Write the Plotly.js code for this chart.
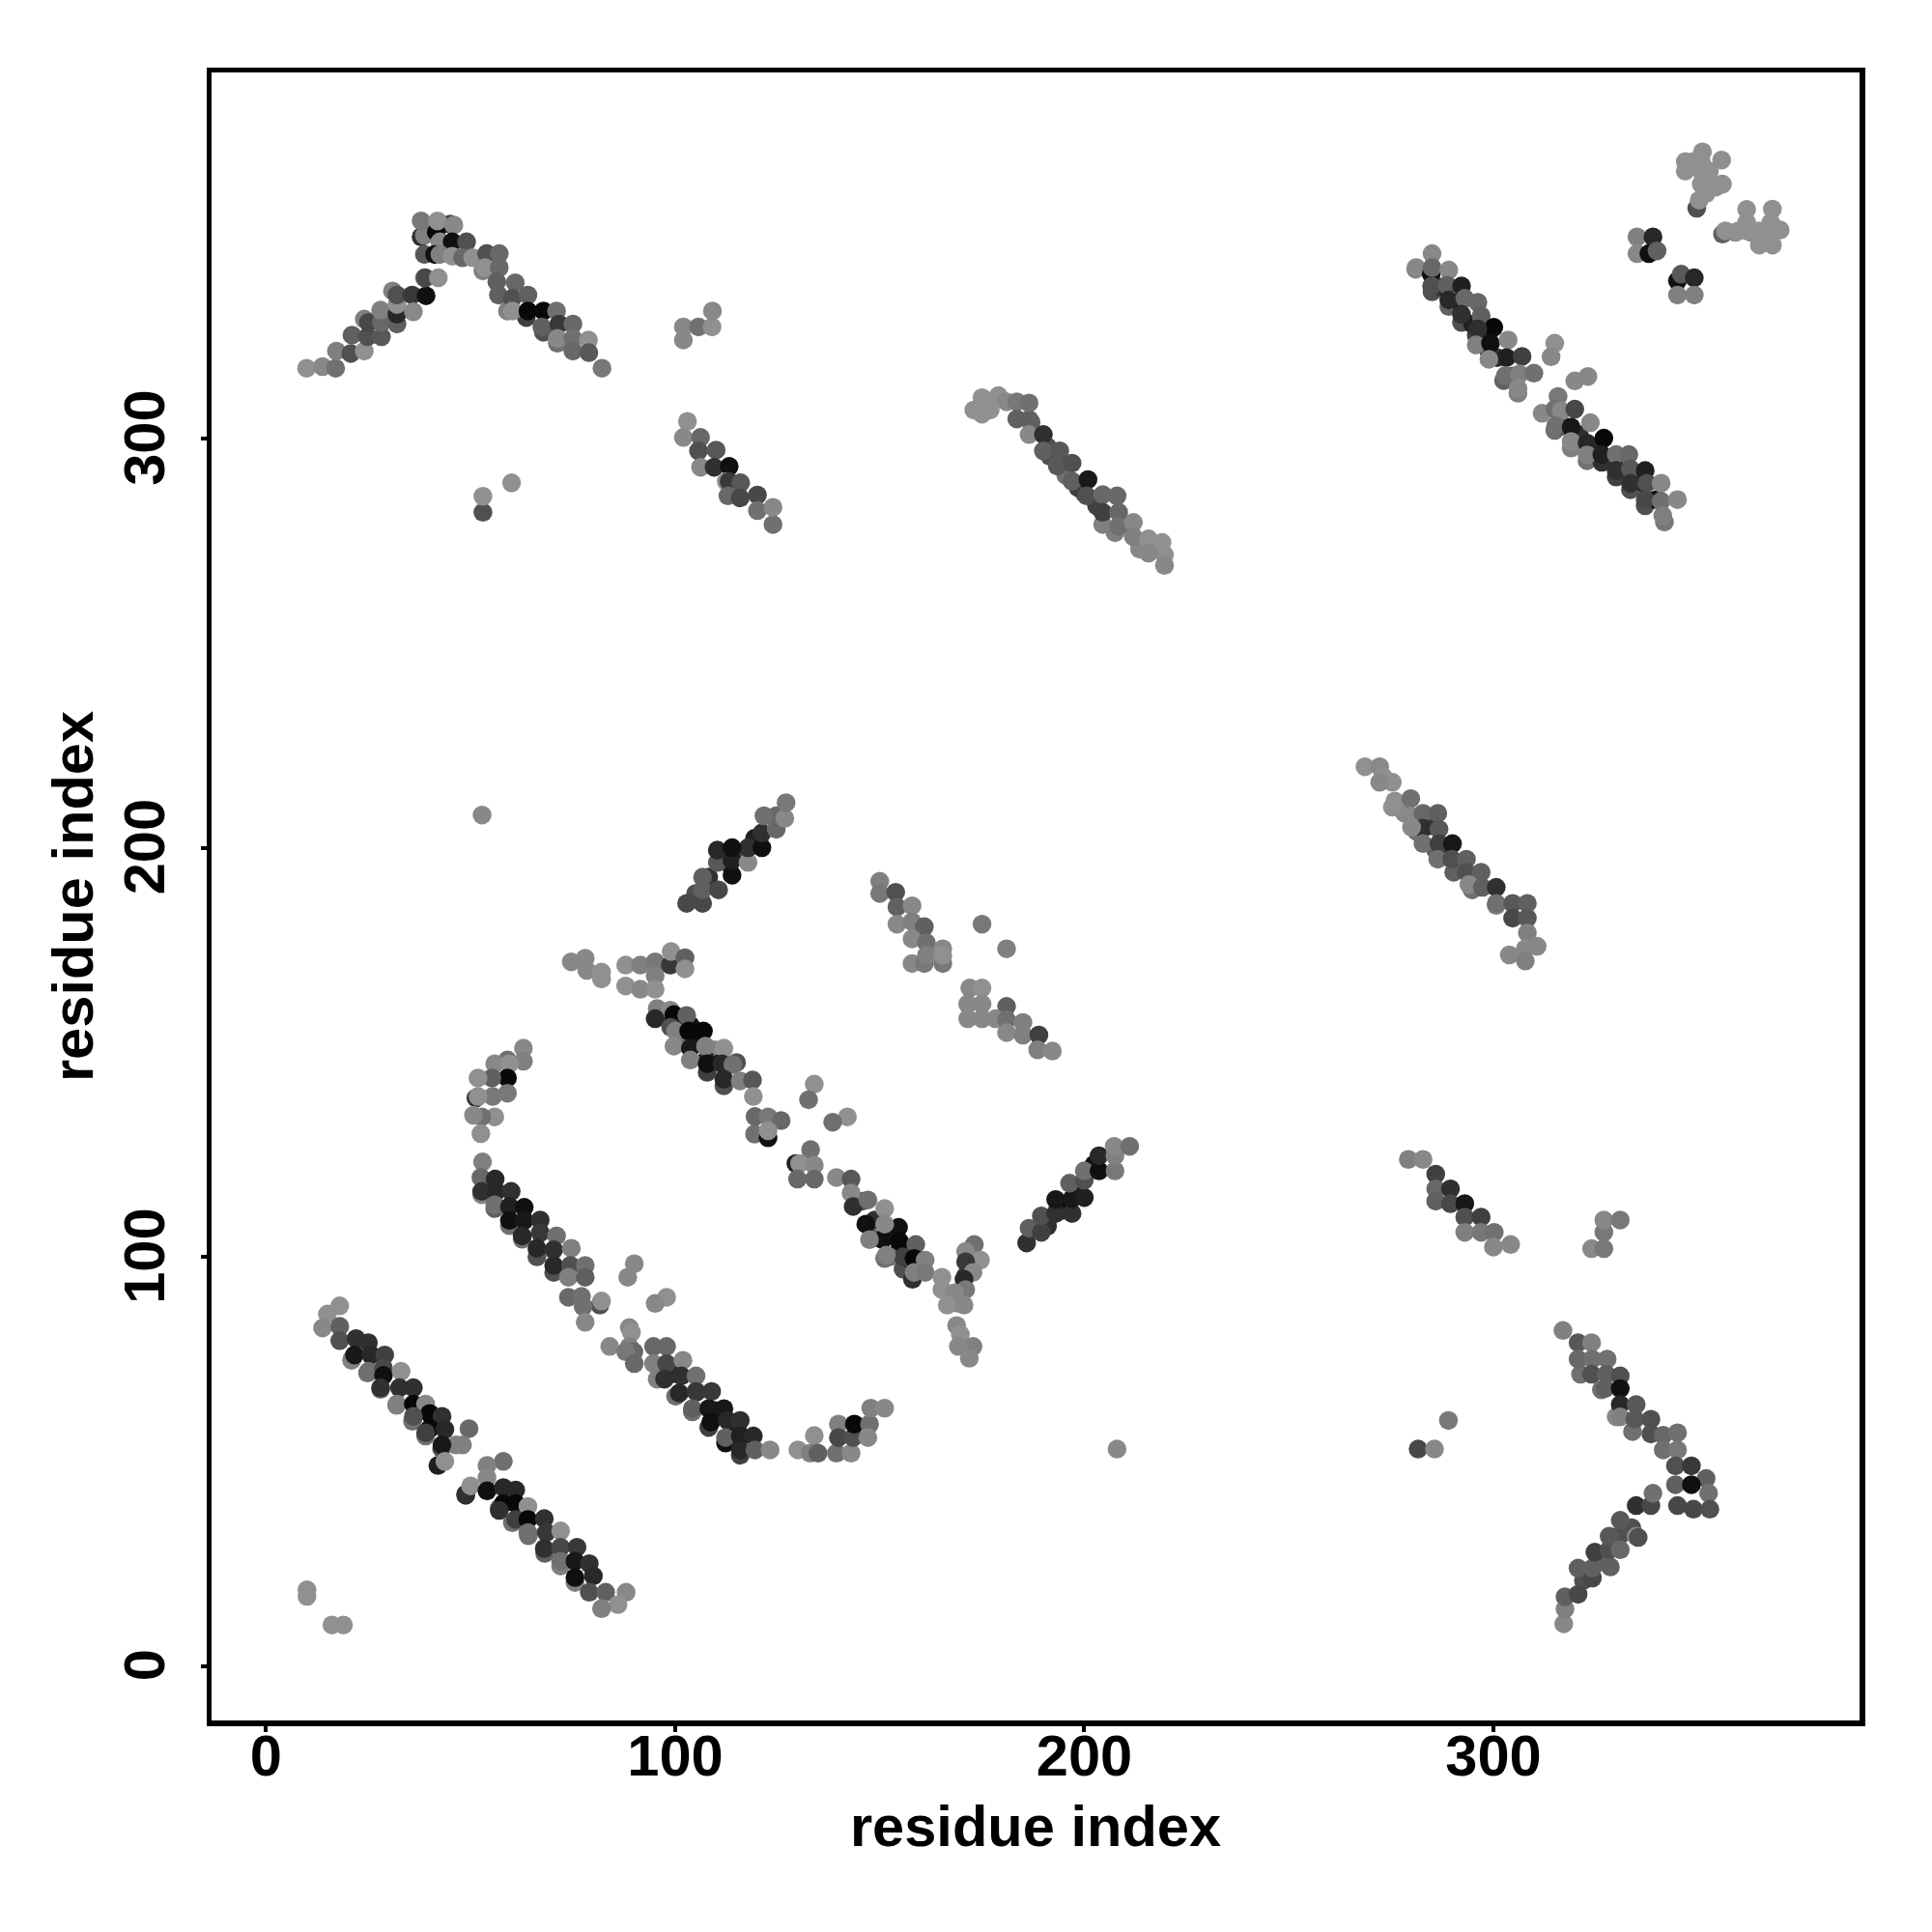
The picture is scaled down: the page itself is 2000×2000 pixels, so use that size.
<!DOCTYPE html>
<html>
<head>
<meta charset="utf-8">
<script src="https://cdn.plot.ly/plotly-3.0.1.min.js"></script>
<style>html,body{margin:0;padding:0;background:#fff}</style>
</head>
<body>
<div id="chart" style="width:2000px;height:2000px"></div>
<script>
const tickValues = [0, 100, 200, 300];
const axisLabel = "residue index";

const underX = [20.9,24.8,28,31.9,35.8,39,42.9,48.8,57,60.2,64.1,68.1,72,75.5,52.7,55.9,59.5,62.6,66.2,70.3,95.6,100.1,104.2,108.2,112.3,115.9,107.8,111.9,151.2,155.7,158,285,289.1,292.2,295.8,298.9,302.5,306,315,319,322.9,326.5,330,333.5,337.1,341.8,108.2,112.7,117,119.4,105,191,194.6,198.5,202.4,186.5,191,195.5,200,204.5,207.5,213.5,217.1,278.3,281.2,285.9,290.3,294.8,300.7,321.3,326.4,330,334,322,325.6,329.3,333.8,59,63.6,67.8,71.2,169.2,171,348.9,352.8,350.8,352,359.1,363,366.6,367.8,361.9];
const underY = [74.7,71.6,67.6,63.7,59.8,56.2,53.1,41.7,38.5,35,31.8,27.5,24.4,20.4,115.2,111.8,107.6,104.3,100,96.2,70.1,65.9,62.1,58.3,54.5,51.5,145.1,141.8,99.6,97,94.5,335.9,332.3,328.4,325.3,321.3,314.2,311.1,302,297.7,294.6,294.2,290.6,287.5,283.6,279.6,192.8,196.4,197.9,202.3,188.8,107.5,111.4,116.6,122.6,304.7,298,291,286.6,279,277,273,273,208.4,204,199.4,194,189.7,185.9,71.3,67.5,60.9,57.3,20.9,25.4,29.3,33.8,331.2,329.6,326,323.3,88.6,95.4,367.7,365.4,367.7,359.9,350.4,350.4,348.9,352.8,350.8];
const underG = [0x80,0x70,0x70,0x80,0x70,0x70,0x50,0x30,0x60,0x70,0x70,0x60,0x80,0x80,0x80,0x60,0x70,0x70,0x50,0x50,0x80,0x70,0x70,0x40,0x10,0x40,0x40,0x50,0x70,0x50,0x30,0x50,0x60,0x50,0x40,0x30,0x60,0x80,0x70,0x80,0x70,0x30,0x40,0x50,0x50,0x78,0x30,0x20,0x40,0x20,0x50,0x30,0x10,0x20,0x10,0x60,0x50,0x70,0x60,0x80,0x80,0x88,0x90,0x88,0x70,0x60,0x60,0x70,0x80,0x70,0x70,0x88,0x70,0x50,0x60,0x70,0x50,0x80,0x40,0x50,0x70,0x88,0x40,0x90,0x90,0x90,0x90,0x90,0x90,0x90,0x90,0x90];

const middleX = [99.2,102.2,105.2,109.7,107.6,111.2,115,103.7,145.8,148.8,151.8,148.2,154.8,157.3,159.4,152.4,317.4,321,325,329.5,334,337,287.3,291.8,294.9,297.9,300.9,304.8,191.6,198.5,203,210.5,284.3,288,99.2,105.2,109.7,115.2];
const middleY = [157.3,154.2,152.7,150.6,148.1,147.5,147.5,156.6,113.6,109,106,104.6,101.6,99.4,97,100,303,301,297,294,292,289,337,333.4,328,324.3,319.8,315.3,295.7,288,283.6,279,205.3,199.4,71.4,66.9,62.4,57.9];
const middleG = [0x20,0x70,0x10,0x88,0x30,0x10,0x50,0x10,0x50,0x30,0x20,0x60,0x10,0x30,0x60,0x70,0x50,0x30,0x20,0x30,0x30,0x20,0x30,0x20,0x20,0x20,0x30,0x50,0x50,0x40,0x40,0x60,0x30,0x30,0x20,0x20,0x10,0x20];

const aX = [10,10,16.1,18.9,18,15,13.8,18,18,21,22,25,21.6,25.6,25,29,28.7,28.7,33,36,32.6,28,32,36,39,40,43,36,40,43.7,39,49.6,48,46.4,43,42,43.7,58,54,54,48.8,50,54,58,61,58,61,64,57,61,64,68,64,68.5,72,68,72,76,72,75.5,79,75.5,80,79,83,88,86,82];
const aY = [17,18.6,10,10,88,86,82.6,83,79.5,75,80,79,76,76,72,76,72.8,71,72,68,68,68,64,64,64,61.7,61,61,58,57.8,57,58,54,54,54,49,50,50,49,46,42,44,42.8,43.6,43,39.7,39.7,39,38,35.8,35.8,36,32.6,32.6,33,28.7,29,29,25.6,25.6,25,21.6,22,18,18,18,15,14];
const aG = [0x90,0x90,0x90,0x90,0x90,0x90,0x88,0x60,0x50,0x80,0x30,0x30,0x18,0x28,0x70,0x40,0x48,0x10,0x90,0x30,0x30,0x30,0x80,0x08,0x88,0x08,0x30,0x50,0x08,0x28,0x40,0x68,0x80,0x80,0x18,0x20,0x90,0x70,0x80,0x88,0x30,0x90,0x10,0x28,0x28,0x08,0x08,0x90,0x30,0x40,0x08,0x30,0x70,0x38,0x90,0x30,0x48,0x38,0x70,0x18,0x30,0x10,0x28,0x50,0x60,0x88,0x90,0x80];

const bX = [51.3,62.9,62.9,59,55.9,59.5,59,55.2,51.8,59,55.4,51.8,55.9,52.7,50.7,52.5,52.9,52.5,52.7,56,56.3,59.9,55.9,59.5,63.1,59.5,63.1,62.6,67,67,71,66.2,70.3,74.6,70.3,74.4,78,73.9,78,73.9,77.1,81.6,82,77.5,78,90,88.4,97.9,95.1,84,88.8,89.3,88.8,89.9,87.9,90,94.7,97.9,94.7,97.9,101.9,97.4,101.5,105.1,101,105.1,108.9,104.2,108.2,111.9,108.7,112.8,115.9,112.3,115.9,119.1,115.9,119.5,123.2];
const bY = [138.8,151,147.8,148.1,147.2,147.2,143.7,143.7,143.7,140,139.2,139.2,134.2,134.2,134.6,130.1,123.2,119.4,116,119,116,116,112.7,112.3,112.1,108.9,108.9,105.1,109,105.9,105.1,102.1,101.7,102.1,97.9,97.9,97.9,95,95,90.1,90.3,88.2,89.2,87.8,84,98.3,95,90.1,88.6,78.1,82.7,81.5,78.1,76.8,76.8,73.9,78.1,78.1,73.9,73.9,74.7,70.1,70.9,70.9,66.7,67.1,67.1,62.9,62.9,62.9,59.6,60,60,55.8,56.2,56.2,52.8,52.8,52.8];
const bG = [0x30,0x88,0x80,0x70,0x88,0x90,0x08,0x60,0x90,0x78,0x78,0x90,0x90,0x70,0x88,0x90,0x80,0x68,0x30,0x28,0x28,0x30,0x70,0x20,0x10,0x10,0x18,0x28,0x30,0x38,0x70,0x28,0x30,0x80,0x28,0x50,0x70,0x80,0x60,0x68,0x70,0x50,0x90,0x70,0x88,0x88,0x88,0x90,0x88,0x88,0x88,0x90,0x80,0x68,0x78,0x68,0x68,0x68,0x80,0x48,0x88,0x30,0x30,0x70,0x28,0x38,0x38,0x60,0x18,0x18,0x10,0x28,0x30,0x60,0x20,0x28,0x28,0x60,0x88];

const cX = [130,134,133,134.9,139.4,143,139.9,139.9,143.5,143.8,147.5,147.1,147.8,151.2];
const cY = [52.8,56.3,52,52,52,52,59.1,55.8,55.8,59.1,59.1,55.8,63,63];
const cG = [0x90,0x90,0x80,0x60,0x70,0x88,0x80,0x48,0x50,0x08,0x70,0x88,0x80,0x88];

const dX = [74.6,78,78.4,82,82,87.9,87.9,91.5,91.5,95.1,95.1,95.1,98.8,99,102.4,102.4,95.6,98.8,95.1,99.7,102.8,98.9,100.1,103.3,106.9,99.7,103.7,103.7,107.4,107.8,111.9,111.4,114.1,111.9,115.9,118.9,119.1,119.5,122.7,125.9,119.4,122.7,122.7,134,132.6,142.1,138.5,133.1,129.5,130.4,134,129.9,134,139.4,143,143,143.5,147.1,151.2,146.6,150.7,147.5,154.6,151.2,154.8,158.8,155.7,151.6,158.4,161.1,158.4,161.1];
const dY = [172.1,173,170,169.6,167.9,171.3,166.2,171.3,165.4,172.1,168.7,165.4,171.3,174.6,173.1,170.4,160.7,160.3,158.2,159.2,159,156.1,155.2,155.2,155.2,151.5,151,148.1,151.5,147.2,151,147.2,147,143.4,143,143.2,139.2,134.3,134.2,133.3,130,129.1,130.8,142.2,138.4,134.2,132.9,126.2,122.8,122.8,122.4,119,119,119.4,119,115.6,112.3,113.9,111.8,108,104.2,104.2,107.2,108,103.8,103,100,100.4,99.6,99.2,96.2,96.2];
const dG = [0x88,0x88,0x88,0x90,0x90,0x90,0x90,0x80,0x88,0x78,0x80,0x90,0x38,0x90,0x60,0x90,0x80,0x88,0x28,0x08,0x60,0x50,0x80,0x08,0x08,0x88,0x18,0x80,0x80,0x10,0x90,0x28,0x70,0x28,0x80,0x58,0x90,0x68,0x78,0x68,0x70,0x10,0x90,0x90,0x70,0x90,0x70,0x70,0x20,0x90,0x88,0x68,0x68,0x88,0x58,0x88,0x30,0x70,0x90,0x10,0x10,0x80,0x10,0x88,0x08,0x60,0x40,0x80,0x08,0x80,0x80,0x78];

const eX = [173.1,171,174.6,171,172.8,170.6,171,165.2,165.2,168.3,166.5,170.6,168.8,169.7,172.8,169.2,171.9];
const eY = [103,101.3,99.2,98.8,96.2,94.5,92,95,92,91.2,88.2,88.2,83.2,81,78.1,78.1,75.2];
const eG = [0x70,0x88,0x90,0x38,0x88,0x28,0x78,0x90,0x90,0x88,0x90,0x88,0x88,0x90,0x80,0x88,0x88];

const fX = [9.9,13.8,17,17.2,20.7,24,21,24.8,28.2,24,25,28.2,28,32,32,32,30.9,32,35.7,36,39.1,38.7,38.9,42.1];
const fY = [317.2,317.6,317.2,321.4,320.8,321.4,325.3,324.9,324.9,329.2,328.4,328.4,331.4,328,330.4,332.8,336.1,335.1,335.1,331,334.9,339.3,339.3,339.3];
const fG = [0x90,0x88,0x70,0x80,0x50,0x90,0x60,0x50,0x58,0x80,0x48,0x68,0x80,0x60,0x28,0x90,0x80,0x50,0x38,0x88,0x10,0x88,0x48,0x90];

const gX = [45,37.9,38.7,41.6,37.9,41.9,45.9,42.5,45.5,49,38.7,41.2,42.5,45.5,48,50.5,53.9,57,53,53.5,57,56.4,56.8,60.9,60.2,60.2,64,64,67.8,71,67.4,71.6,75,71.2,75,78.8,75,78.9,82.1];
const gY = [352.4,349.3,349.7,350.5,353.2,353.2,352.2,348.1,348.1,348.1,345,345,345,344.6,344.2,344.2,345.2,345.2,341,341.8,341.8,338.3,335.1,338.1,334.3,331.2,335.1,331.2,331.2,331.2,327.3,328,328,324.5,324.5,324.1,321.4,321,317.2];
const gG = [0x40,0x30,0x80,0x08,0x78,0x90,0x88,0x88,0x10,0x50,0x58,0x10,0x80,0x90,0x68,0x90,0x50,0x68,0x80,0x90,0x68,0x60,0x60,0x68,0x50,0x90,0x60,0x08,0x08,0x70,0x60,0x38,0x68,0x88,0x70,0x90,0x68,0x58,0x78];

const hX = [102,102,105.7,109,109.1,53,53,60,103,102,106.2,105.7,110,106.2,109.5,113.2,112.5,113.2,116,112.9,115.9,120.1,120.1,123.9,123.9];
const hY = [327.3,324.1,327.3,327.3,331.2,282,285.9,289.2,304.2,300.3,300.3,297,297.2,293,293,293.2,289.5,289.5,289.2,286,285.5,286.2,282.4,279,283.2];
const hG = [0x88,0x88,0x70,0x90,0x88,0x50,0x90,0x90,0x90,0x88,0x68,0x50,0x58,0x88,0x30,0x10,0x90,0x38,0x58,0x68,0x48,0x48,0x70,0x70,0x88];

const iX = [349.7,346.9,351.1,355.8,346.9,350.8,350.8,356,354.4,350.3,356,356.7,359.9,361.9,361.9,368.2,367.8,370.1,365,368.2,365,335.1,339,335.1,338,340,345,345.9,349.1,345,349.1];
const iY = [356.3,367.7,370.1,368.1,365.4,365.4,362.2,362.2,361.5,358.3,350,350.8,350.8,356,352.8,356.1,350.8,351,347.3,347.3,350.8,349.3,349.3,345.2,345.2,345.9,338.6,340.2,339.3,335.1,335.1];
const iG = [0x50,0x90,0x90,0x90,0x90,0x90,0x90,0x90,0x90,0x90,0x60,0x90,0x90,0x90,0x90,0x90,0x90,0x90,0x90,0x90,0x90,0x80,0x28,0x88,0x10,0x60,0x10,0x58,0x28,0x80,0x80];

const jX = [281,281.1,285,284.8,285,284.9,289.1,288.7,289.1,292.2,293,296.2,292.2,297,300.1,296.2,295.8,299.3,303.6,303.2,298.9,307,302.9,306.4,309.9,306,315,314.1,323.1,319.9];
const jY = [341.4,341.8,345.2,340.2,341.8,337.3,341.2,337.5,333.9,337.3,334.3,333.3,330.4,330,327.2,326.8,322.9,323.3,324.1,319.8,319.4,320.1,315.4,315.8,316,312.3,323.3,320,315.2,314.1];
const jG = [0x80,0x88,0x88,0x10,0x68,0x50,0x88,0x60,0x28,0x20,0x68,0x68,0x30,0x60,0x08,0x30,0x80,0x10,0x88,0x20,0x88,0x40,0x70,0x80,0x70,0x88,0x90,0x88,0x88,0x88];

const kX = [339.8,315.8,311.9,315,316.6,315.2,319.9,319,323.7,319,322.9,322.9,327,326.5,330,333.1,330,333.5,337.1,333.5,337.5,341,337.1,341,345,341.4];
const kY = [285.1,310.3,306.2,307.2,306.8,303.1,307.2,302.8,303.9,299.3,298.9,296,300.1,296.1,296.1,296.1,292.2,292.6,292.2,289.1,289.1,289.1,285.1,284.7,285.1,281.2];
const kG = [0x10,0x78,0x88,0x70,0x88,0x70,0x48,0x18,0x88,0x88,0x28,0x80,0x08,0x20,0x70,0x68,0x30,0x58,0x20,0x30,0x50,0x88,0x48,0x70,0x88,0x80];

const lX = [175,173,175,177,179,181,183.5,186.5,183.5,187,186.5,190,190,194,193.4,197,197,200.9,200.6,204.5,204.5,208,208.4,208.4,212,212,215.7,219,219.6,219.6,215.7];
const lY = [306,307,310,307,310.5,309,309,308.7,304.8,304,301,301,297,297,293.3,294,289.6,290,286,286.3,282,286,282,278.5,279.5,276,275.5,274.6,271.6,269,272];
const lG = [0x90,0x90,0x90,0x90,0x90,0x88,0x78,0x70,0x60,0x60,0x88,0x30,0x60,0x58,0x58,0x50,0x60,0x18,0x50,0x68,0x40,0x68,0x68,0x70,0x88,0x80,0x90,0x90,0x90,0x88,0x88];

const mX = [268.6,272.2,273,275.3,272.2,275.9,279.8,275.3,279.8,282.8,286.4,282.8,286.7,280,282.8,286.7,290,286.4,289.8,293.4,293.4,297,294,297.3,300.7,300.7,304.7,308.3,304.7,308.3,308.3,310.7,303.9,307.8,307.8];
const mY = [219.8,219.8,217.4,216,216,211.4,212,209.9,207.8,208.4,208.4,204.8,204.5,205,201,201,201,197.2,197.2,197.2,194,194,191,190.3,190.3,186.4,186.4,186.4,182.8,182.8,179.2,175.9,173.8,175.3,172.3];
const mG = [0x90,0x88,0x90,0x90,0x88,0x90,0x70,0x90,0x88,0x68,0x60,0x30,0x58,0x88,0x70,0x40,0x18,0x70,0x50,0x60,0x50,0x60,0x88,0x60,0x30,0x70,0x58,0x60,0x48,0x58,0x80,0x88,0x88,0x88,0x80];

const nX = [102.8,106.7,106.7,110.6,106.7,110.3,113.9,113.9,117.8,117.8,121.2,121.2,124.7,124.7,126.8,127.1,121.7,110.3,113.9];
const nY = [186.4,186.4,189.7,189.7,192.8,196.4,193.3,196.9,196.4,200,200,203.6,204.5,207.8,207.2,211,207.8,199.4,200];
const nG = [0x48,0x48,0x60,0x48,0x60,0x58,0x10,0x20,0x88,0x30,0x10,0x30,0x68,0x68,0x88,0x78,0x70,0x28,0x10];

const oX = [150,150,153.9,154.2,157.9,154.2,157.9,160.9,157.9,161.4,165.4,157.9,160.9,165.4,161.4,165.4,175,181,172,175,171.5,175,181,171.5,175,178.3,181,185,181,185,188.9,188.6,192.2];
const oY = [191.8,188.8,189.1,185.5,185.8,181.3,181.9,180.7,177.7,176.8,175.3,171.7,171.7,171.7,173.7,173.7,181.3,175.3,165.7,165.7,161.8,161.8,161.2,158.2,158.2,158.2,157.9,157.3,154.8,154.2,154.2,150.6,150.3];
const oG = [0x80,0x78,0x50,0x60,0x88,0x88,0x80,0x60,0x88,0x70,0x88,0x88,0x78,0x78,0x80,0x90,0x78,0x80,0x88,0x90,0x88,0x88,0x60,0x88,0x88,0x88,0x70,0x80,0x88,0x80,0x40,0x80,0x88];

const pX = [185.9,186.5,189.5,189.5,193,197,193,197,196.4,200,200,200,203.6,203.6,207.5,207.5,207.3,211.1];
const pY = [103.4,107,106,110,110.6,110.6,114,114.2,118,114.5,118.7,121,121,124.7,121,124.7,127,127];
const pG = [0x30,0x60,0x40,0x50,0x30,0x30,0x18,0x18,0x60,0x20,0x50,0x70,0x10,0x28,0x78,0x80,0x88,0x70];

const qX = [279.2,282.8,285.9,285.9,289.5,285.9,289.5,293,293,293,297,297,300.2,300,304.2,324,327,327,327,331,52.8,208,281.6,285.6,289];
const qY = [123.8,123.8,120.2,116.6,116.6,113.6,113,113,109.7,106,109.7,106,106,102.4,103,102,102,106,109,109,208,53,53,53,60];
const qG = [0x80,0x88,0x40,0x68,0x30,0x60,0x48,0x18,0x50,0x80,0x40,0x78,0x70,0x88,0x88,0x88,0x78,0x78,0x88,0x78,0x88,0x88,0x48,0x88,0x78];

const rX = [317,320.7,324,320.7,324.2,327.8,324,327.6,331,327.3,331,331,334.9,331,334.6,338.5,338.5,341.5,345,341.5,345,344.5,348.4,352,344.5,348.4,352.6,345,348.9,352.9];
const rY = [82,79,79,75,75,75,71.3,71.3,70.9,67.8,67.8,63.9,63.9,60.9,60.3,60.3,56.7,56.4,57,52.8,52.8,48.9,48.9,45.8,44.3,44.3,42.2,39.2,38.3,38.3];
const rG = [0x80,0x58,0x80,0x68,0x70,0x70,0x50,0x60,0x50,0x60,0x10,0x28,0x58,0x80,0x58,0x50,0x50,0x68,0x70,0x70,0x78,0x50,0x38,0x60,0x60,0x10,0x70,0x48,0x48,0x50];

const sX = [317.2,317.5,317.5,320.7,320.7,324.2,324.2,324.8,328.6,328.3,331,328.3,331,334.9,335.4,331,334.9,338.5,339];
const sY = [10.3,13.9,16.9,17.5,23.9,21.5,23.9,27.8,24.2,28.4,32,31.7,28.4,31.7,31.4,35.6,39.2,39.2,42.2];
const sG = [0x88,0x80,0x60,0x48,0x60,0x48,0x60,0x40,0x60,0x50,0x50,0x58,0x68,0x88,0x50,0x58,0x30,0x48,0x70];

const bands = [[underX,underY,underG],[middleX,middleY,middleG],[aX,aY,aG],[bX,bY,bG],[cX,cY,cG],[dX,dY,dG],[eX,eY,eG],[fX,fY,fG],[gX,gY,gG],[hX,hY,hG],[iX,iY,iG],[jX,jY,jG],[kX,kY,kG],[lX,lY,lG],[mX,mY,mG],[nX,nY,nG],[oX,oY,oG],[pX,pY,pG],[qX,qY,qG],[rX,rY,rG],[sX,sY,sG]];

const traces = bands.map(([x, y, g]) => ({
  type: "scatter", mode: "markers", x, y, showlegend: false, hoverinfo: "skip",
  marker: { size: 19.5, line: { width: 0 }, color: g.map(v => `rgb(${v},${v},${v})`) }
}));

const font = { family: "Liberation Sans", size: 59.6, color: "#000", weight: 700 };
const axisBase = {
  tickmode: "array", tickvals: tickValues, ticktext: tickValues.map(String),
  showgrid: false, zeroline: false, showline: true, mirror: true,
  linecolor: "#000", linewidth: 5.5, ticks: "outside", ticklen: 6, tickwidth: 4, tickcolor: "#000",
  tickfont: font
};
const layout = {
  width: 2000, height: 2000, autosize: false,
  paper_bgcolor: "#fff", plot_bgcolor: "#fff",
  margin: { l: 218.5, r: 74.5, t: 74.5, b: 218.5, pad: 0 },
  showlegend: false,
  xaxis: Object.assign({}, axisBase, { range: [-13.33, 389.5], ticklabelstandoff: -26, title: { text: axisLabel, font, standoff: 21 } }),
  yaxis: Object.assign({}, axisBase, { range: [-13.33, 389.5], tickangle: -90, ticklabelstandoff: 14, ticklabelshift: 8, title: { text: axisLabel, font, standoff: 2 } })
};
Plotly.newPlot("chart", traces, layout, { displayModeBar: false, staticPlot: true });
</script>
</body>
</html>
